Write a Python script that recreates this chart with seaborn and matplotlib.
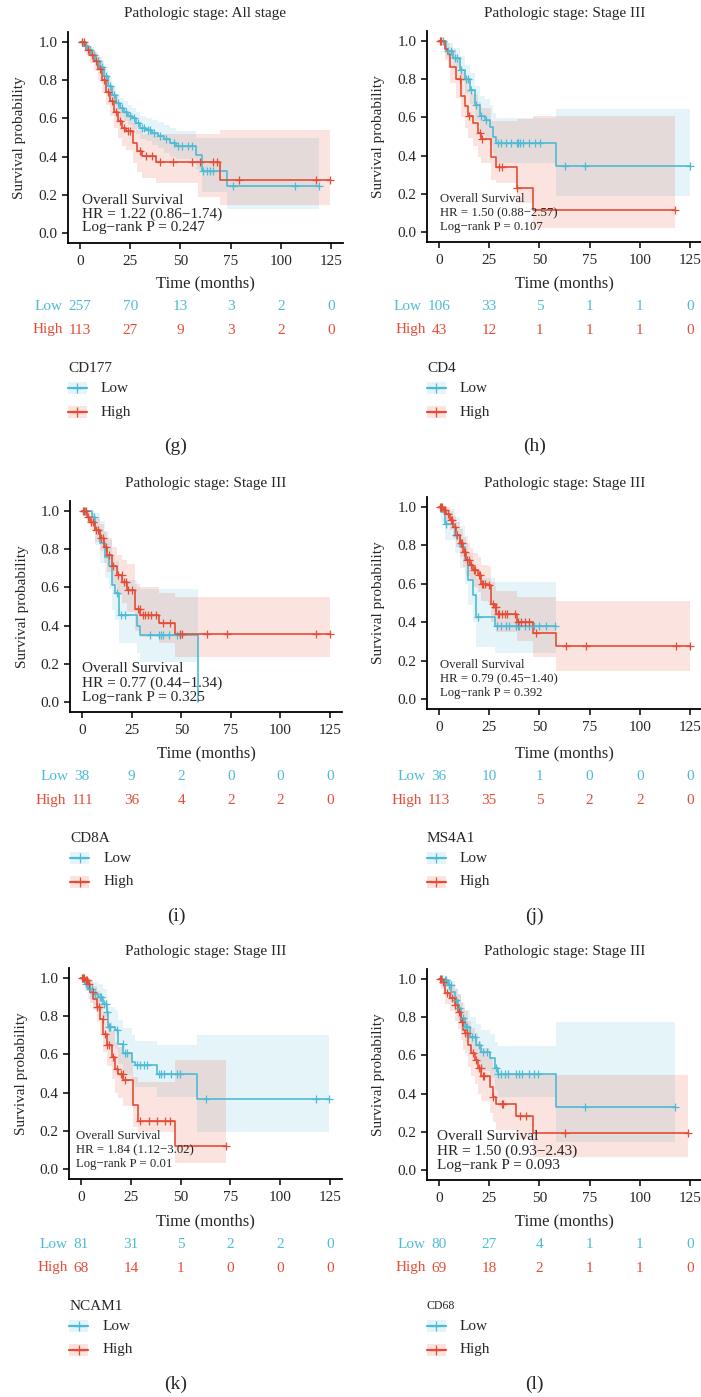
import numpy as np
import matplotlib
matplotlib.use('Agg')
import matplotlib.pyplot as plt
import matplotlib.transforms as mtransforms
from matplotlib.patches import Rectangle
from matplotlib.lines import Line2D
import seaborn as sns

# --- data (months / survival probability) ---
time_ticks = [0, 25, 50, 75, 100, 125]

# (g) CD177, all stage
g_low_t = [0, 2, 4, 6, 8, 10, 12, 14, 16, 18, 20, 22, 24, 26, 28, 30, 33, 36, 39, 42, 45, 48, 58, 60.6, 73]
g_low_s = [1.0, 0.98, 0.96, 0.93, 0.90, 0.87, 0.82, 0.77, 0.72, 0.68, 0.655, 0.635, 0.615, 0.60, 0.575, 0.55, 0.54, 0.525, 0.51, 0.49, 0.47, 0.455, 0.41, 0.325, 0.245]
g_low_lo = [1.0, 0.97, 0.94, 0.905, 0.87, 0.83, 0.78, 0.73, 0.68, 0.635, 0.605, 0.585, 0.565, 0.545, 0.52, 0.49, 0.48, 0.46, 0.445, 0.42, 0.40, 0.385, 0.33, 0.215, 0.125]
g_low_hi = [1.0, 0.99, 0.98, 0.955, 0.93, 0.905, 0.86, 0.815, 0.77, 0.73, 0.705, 0.69, 0.67, 0.655, 0.635, 0.61, 0.60, 0.59, 0.58, 0.565, 0.55, 0.535, 0.50, 0.50, 0.50]
g_low_cens = [1, 3, 5, 7, 9, 11, 13, 15, 17, 19, 21, 23, 25, 27, 29, 31, 32, 34, 35, 37, 40, 43, 47, 49, 51, 54, 56, 61.5, 63, 64.5, 66, 76, 107, 119]
g_low_end = 119
g_high_t = [0, 3, 5, 7, 9, 11, 13, 15, 17, 19, 21, 23, 26.5, 28.5, 31, 38, 59, 69.7]
g_high_s = [1.0, 0.96, 0.93, 0.90, 0.86, 0.80, 0.74, 0.69, 0.635, 0.585, 0.55, 0.535, 0.47, 0.43, 0.405, 0.37, 0.37, 0.275]
g_high_lo = [1.0, 0.93, 0.89, 0.85, 0.80, 0.735, 0.67, 0.61, 0.55, 0.495, 0.455, 0.435, 0.365, 0.32, 0.29, 0.26, 0.19, 0.145]
g_high_hi = [1.0, 0.99, 0.975, 0.95, 0.92, 0.87, 0.82, 0.77, 0.72, 0.675, 0.645, 0.63, 0.575, 0.54, 0.52, 0.52, 0.52, 0.54]
g_high_cens = [1, 2, 4, 6, 8, 10, 12, 14, 16, 18, 20, 22, 24, 25, 30, 33, 36, 40, 46.5, 55.6, 59.8, 66, 68, 79, 117.5, 124.5]
g_high_end = 124.5
g_risk_low = [257, 70, 13, 3, 2, 0]
g_risk_high = [113, 27, 9, 3, 2, 0]

# (h) CD4
h_low_t = [0, 3.7, 7, 10.3, 12.8, 15.3, 17.8, 20.3, 22.8, 25.3, 27, 28.6, 58.5]
h_low_s = [1.0, 0.95, 0.91, 0.85, 0.80, 0.745, 0.667, 0.605, 0.587, 0.55, 0.50, 0.465, 0.347]
h_low_lo = [1.0, 0.91, 0.86, 0.79, 0.73, 0.67, 0.58, 0.515, 0.49, 0.45, 0.40, 0.36, 0.186]
h_low_hi = [1.0, 0.99, 0.965, 0.92, 0.875, 0.83, 0.765, 0.71, 0.695, 0.665, 0.625, 0.595, 0.645]
h_low_cens = [1, 2, 4.5, 6, 8, 9, 11, 13.5, 14.5, 16, 18.5, 21, 23.5, 29.4, 31, 33.5, 36, 38.6, 39.4, 40.5, 42, 44.6, 47.8, 50.2, 62.7, 72.6, 125]
h_low_end = 125
h_high_t = [0, 2.8, 4.5, 5.3, 8.6, 11, 12.8, 14.5, 17, 19.4, 21, 26, 28.6, 38.6, 46.9]
h_high_s = [1.0, 0.96, 0.93, 0.865, 0.80, 0.71, 0.66, 0.605, 0.57, 0.52, 0.485, 0.395, 0.338, 0.228, 0.113]
h_high_lo = [1.0, 0.90, 0.86, 0.78, 0.70, 0.60, 0.545, 0.49, 0.45, 0.395, 0.36, 0.27, 0.256, 0.15, 0.02]
h_high_hi = [1.0, 1.0, 0.99, 0.96, 0.91, 0.84, 0.80, 0.75, 0.72, 0.68, 0.65, 0.58, 0.58, 0.59, 0.605]
h_high_cens = [0.5, 1, 10.6, 15, 20.3, 21.5, 30, 31.5, 39, 117.5]
h_high_end = 117.5
h_risk_low = [106, 33, 5, 1, 1, 0]
h_risk_high = [43, 12, 1, 1, 1, 0]

# (i) CD8A
i_low_t = [0, 5, 6.7, 9.2, 11.7, 13.4, 15.1, 16.8, 18.5, 27.7, 29.4, 58.4]
i_low_s = [1.0, 0.97, 0.90, 0.83, 0.76, 0.71, 0.61, 0.57, 0.456, 0.40, 0.352, 0.0]
i_low_lo = [1.0, 0.92, 0.82, 0.73, 0.65, 0.59, 0.48, 0.43, 0.31, 0.256, 0.21, 0.0]
i_low_hi = [1.0, 1.0, 0.99, 0.95, 0.89, 0.85, 0.77, 0.74, 0.64, 0.60, 0.59, 0.0]
i_low_cens = [1.7, 5.9, 17.6, 19.5, 21.8, 34.4, 39, 40, 41, 43.6, 48, 49.5]
i_low_end = 58.4
i_high_t = [0, 2.5, 4.2, 6.7, 9.2, 10.9, 12.6, 15.1, 17.6, 20.1, 22.6, 26.8, 29.4, 38.6, 47]
i_high_s = [1.0, 0.97, 0.945, 0.90, 0.86, 0.81, 0.77, 0.71, 0.665, 0.63, 0.587, 0.486, 0.456, 0.413, 0.357]
i_high_lo = [1.0, 0.94, 0.90, 0.84, 0.79, 0.73, 0.68, 0.615, 0.56, 0.52, 0.47, 0.37, 0.34, 0.31, 0.233]
i_high_hi = [1.0, 1.0, 0.99, 0.965, 0.93, 0.895, 0.86, 0.81, 0.77, 0.745, 0.72, 0.62, 0.60, 0.57, 0.55]
i_high_cens = [0.5, 1, 2, 3, 4.5, 5.5, 7, 8, 9.5, 10.5, 12, 13.5, 15.5, 18, 20, 21, 22, 23, 25, 28, 29, 30.5, 32, 33.5, 35, 37.5, 41, 44.5, 49.5, 50.5, 63, 73, 118, 125]
i_high_end = 125
i_risk_low = [38, 9, 2, 0, 0, 0]
i_risk_high = [111, 36, 4, 2, 2, 0]

# (j) MS4A1
j_low_t = [0, 1.2, 2.8, 7.8, 10.3, 12.8, 14.5, 17, 18.6, 27.8]
j_low_s = [1.0, 0.974, 0.913, 0.853, 0.79, 0.723, 0.619, 0.54, 0.428, 0.381]
j_low_lo = [1.0, 0.92, 0.83, 0.76, 0.68, 0.60, 0.49, 0.40, 0.272, 0.237]
j_low_hi = [1.0, 1.0, 0.99, 0.95, 0.90, 0.85, 0.76, 0.70, 0.63, 0.61]
j_low_cens = [3.7, 8.5, 19.4, 29, 31, 33.5, 35, 38.5, 39.4, 40, 42.6, 45, 47.5, 50, 53.5, 58]
j_low_end = 58.5
j_high_t = [0, 2, 3.7, 5.3, 7, 8.6, 10.3, 12, 13.6, 15.3, 17, 19.4, 21.1, 24.4, 26.1, 27.8, 28.6, 38.6, 46.9, 58.5]
j_high_s = [1.0, 0.986, 0.965, 0.93, 0.896, 0.853, 0.81, 0.766, 0.723, 0.697, 0.67, 0.645, 0.60, 0.593, 0.497, 0.48, 0.445, 0.402, 0.345, 0.276]
j_high_lo = [1.0, 0.96, 0.93, 0.88, 0.84, 0.79, 0.74, 0.69, 0.64, 0.615, 0.585, 0.555, 0.51, 0.50, 0.40, 0.385, 0.35, 0.30, 0.22, 0.147]
j_high_hi = [1.0, 1.0, 1.0, 0.98, 0.955, 0.92, 0.885, 0.845, 0.81, 0.785, 0.76, 0.74, 0.70, 0.695, 0.61, 0.59, 0.56, 0.53, 0.53, 0.51]
j_high_cens = [0.5, 1, 1.5, 2.5, 3, 4.5, 6, 6.5, 8, 9, 11, 11.5, 12.5, 13, 14, 15, 16, 17.5, 18, 20, 20.5, 21.5, 22, 23, 25, 27, 28, 28.5, 29.5, 30, 31.5, 33, 34, 38, 39.5, 41, 43, 45, 48.5, 63, 73, 118, 125]
j_high_end = 125
j_risk_low = [36, 10, 1, 0, 0, 0]
j_risk_high = [113, 35, 5, 2, 2, 0]

# (k) NCAM1
k_low_t = [0, 2, 3.7, 6.2, 8.7, 11.2, 12.9, 13.7, 17, 18.7, 21.3, 25.4, 27.1, 38, 58.4]
k_low_s = [1.0, 0.97, 0.944, 0.918, 0.90, 0.866, 0.822, 0.744, 0.727, 0.657, 0.605, 0.561, 0.544, 0.497, 0.369]
k_low_lo = [1.0, 0.93, 0.89, 0.86, 0.835, 0.79, 0.74, 0.65, 0.63, 0.55, 0.49, 0.445, 0.43, 0.378, 0.195]
k_low_hi = [1.0, 1.0, 0.995, 0.98, 0.97, 0.945, 0.91, 0.85, 0.835, 0.78, 0.74, 0.70, 0.67, 0.648, 0.70]
k_low_cens = [1, 2.5, 4.5, 5.5, 7, 9.5, 10, 11.5, 12.5, 13.2, 14, 14.5, 18, 21, 22, 23, 28, 29.5, 31.5, 33, 39, 40, 41.5, 45, 48, 49.5, 62.8, 118, 124.5]
k_low_end = 124.5
k_high_t = [0, 2, 3.7, 4.5, 6.2, 7.9, 9.5, 11.2, 12.9, 15.4, 17, 18.7, 21.3, 26.3, 28.8, 47.2]
k_high_s = [1.0, 0.988, 0.97, 0.927, 0.892, 0.849, 0.787, 0.709, 0.648, 0.587, 0.526, 0.50, 0.465, 0.334, 0.253, 0.122]
k_high_lo = [1.0, 0.96, 0.93, 0.87, 0.83, 0.77, 0.70, 0.61, 0.54, 0.47, 0.40, 0.37, 0.33, 0.22, 0.195, 0.03]
k_high_hi = [1.0, 1.0, 1.0, 0.99, 0.96, 0.93, 0.88, 0.82, 0.77, 0.72, 0.665, 0.64, 0.61, 0.48, 0.456, 0.57]
k_high_cens = [0.5, 1, 1.5, 2.5, 3, 4, 6, 8, 9, 11, 12, 13, 14, 16, 18, 20, 21, 22, 29.6, 34, 38, 42, 44.7, 73]
k_high_end = 73
k_risk_low = [81, 31, 5, 2, 2, 0]
k_risk_high = [68, 14, 1, 0, 0, 0]

# (l) CD68
l_low_t = [0, 2, 4.5, 6.1, 7.8, 9.5, 11.1, 12.8, 15.3, 18.6, 21.1, 25.3, 27.8, 29.4, 58.5]
l_low_s = [1.0, 0.995, 0.969, 0.934, 0.89, 0.846, 0.794, 0.75, 0.698, 0.654, 0.62, 0.585, 0.532, 0.503, 0.332]
l_low_lo = [1.0, 0.98, 0.93, 0.88, 0.83, 0.78, 0.72, 0.67, 0.61, 0.56, 0.52, 0.48, 0.42, 0.384, 0.145]
l_low_hi = [1.0, 1.0, 1.0, 0.99, 0.955, 0.92, 0.875, 0.84, 0.80, 0.765, 0.735, 0.71, 0.67, 0.65, 0.775]
l_low_cens = [1.5, 3, 3.5, 5, 6, 8.5, 10, 12, 13.5, 14, 16.5, 18, 20, 22, 24, 28.5, 29.5, 31, 33, 34.5, 38.5, 40, 41.5, 45, 47.5, 49.5, 72.6, 117.5]
l_low_end = 117.5
l_high_t = [0, 1.2, 2.8, 5.3, 7.8, 9.5, 11.1, 12, 12.8, 14.5, 16.1, 17.8, 19.4, 21.1, 25.3, 26.9, 28.6, 38.1, 46.9]
l_high_s = [1.0, 0.986, 0.925, 0.90, 0.864, 0.829, 0.777, 0.733, 0.716, 0.654, 0.611, 0.576, 0.532, 0.494, 0.436, 0.384, 0.346, 0.284, 0.192]
l_high_lo = [1.0, 0.95, 0.87, 0.83, 0.78, 0.74, 0.68, 0.63, 0.61, 0.54, 0.49, 0.45, 0.40, 0.36, 0.30, 0.25, 0.21, 0.16, 0.07]
l_high_hi = [1.0, 1.0, 0.99, 0.975, 0.95, 0.92, 0.88, 0.85, 0.835, 0.78, 0.745, 0.715, 0.675, 0.64, 0.59, 0.54, 0.50, 0.497, 0.497]
l_high_cens = [0.5, 1, 2, 4, 6.5, 8, 10, 11.5, 13, 14, 17, 18.5, 20, 21, 22, 22.5, 27, 31.5, 32, 40.2, 43.5, 62.7, 124]
l_high_end = 124
l_risk_low = [80, 27, 4, 1, 1, 0]
l_risk_high = [69, 18, 2, 1, 1, 0]

titles = ['Pathologic stage: All stage'] + ['Pathologic stage: Stage III'] * 5
genes = ['CD177', 'CD4', 'CD8A', 'MS4A1', 'NCAM1', 'CD68']
letters = ['(g)', '(h)', '(i)', '(j)', '(k)', '(l)']
hr_text = ['HR = 1.22 (0.86\u22121.74)', 'HR = 1.50 (0.88\u22122.57)', 'HR = 0.77 (0.44\u22121.34)',
           'HR = 0.79 (0.45\u22121.40)', 'HR = 1.84 (1.12\u22123.02)', 'HR = 1.50 (0.93\u22122.43)']
p_text = ['Log\u2212rank P = 0.247', 'Log\u2212rank P = 0.107', 'Log\u2212rank P = 0.325',
          'Log\u2212rank P = 0.392', 'Log\u2212rank P = 0.01', 'Log\u2212rank P = 0.093']

# --- style ---
sns.set_style('ticks')
plt.rcParams['font.family'] = ['Liberation Serif', 'DejaVu Serif']

BLUE = '#4DBBD5'
RED = '#E64B35'
W, H = 701, 1397
FS = 11


def fx(x):
    return x / W


def fy(y):
    return 1 - y / H


def draw_curve(ax, t, s, lo, hi, cens, end, color):
    t, s, lo, hi = list(t), list(s), list(lo), list(hi)
    if end > t[-1]:
        t, s, lo, hi = t + [end], s + [s[-1]], lo + [lo[-1]], hi + [hi[-1]]
    ax.fill_between(t, lo, hi, step='post', color=color, alpha=0.15, lw=0, zorder=1)
    sns.lineplot(x=t, y=s, drawstyle='steps-post', color=color, lw=1.2,
                 estimator=None, sort=False, ax=ax, zorder=2)
    idx = np.searchsorted(t, cens, side='right') - 1
    sns.scatterplot(x=cens, y=np.array(s)[idx], marker='+', s=32, color=color,
                    linewidth=0.9, ax=ax, zorder=3)


fig = plt.figure(figsize=(W / 100, H / 100), dpi=100)

# pixel geometry per panel: x of t=0, px per month, y of S=1, y of S=0, row offset
geom = [(80, 2.008, 42, 233, 0), (439, 2.008, 41, 232, 0),
        (82, 1.984, 511, 702, 470), (439, 2.008, 507, 699, 470),
        (81, 1.992, 978, 1169, 938), (439, 2.008, 979, 1170, 938)]
curves = [
    ((g_low_t, g_low_s, g_low_lo, g_low_hi, g_low_cens, g_low_end),
     (g_high_t, g_high_s, g_high_lo, g_high_hi, g_high_cens, g_high_end), g_risk_low, g_risk_high),
    ((h_low_t, h_low_s, h_low_lo, h_low_hi, h_low_cens, h_low_end),
     (h_high_t, h_high_s, h_high_lo, h_high_hi, h_high_cens, h_high_end), h_risk_low, h_risk_high),
    ((i_low_t, i_low_s, i_low_lo, i_low_hi, i_low_cens, i_low_end),
     (i_high_t, i_high_s, i_high_lo, i_high_hi, i_high_cens, i_high_end), i_risk_low, i_risk_high),
    ((j_low_t, j_low_s, j_low_lo, j_low_hi, j_low_cens, j_low_end),
     (j_high_t, j_high_s, j_high_lo, j_high_hi, j_high_cens, j_high_end), j_risk_low, j_risk_high),
    ((k_low_t, k_low_s, k_low_lo, k_low_hi, k_low_cens, k_low_end),
     (k_high_t, k_high_s, k_high_lo, k_high_hi, k_high_cens, k_high_end), k_risk_low, k_risk_high),
    ((l_low_t, l_low_s, l_low_lo, l_low_hi, l_low_cens, l_low_end),
     (l_high_t, l_high_s, l_high_lo, l_high_hi, l_high_cens, l_high_end), l_risk_low, l_risk_high),
]
note_size = [11, 9.2, 11, 9.2, 9.2, 11]
note_dx = [2, 1, 0, 1, -5, -2]
gene_size = [11, 11, 11, 11, 11, 8.5]

for p in range(6):
    x0, xs, y1, y0, off = geom[p]
    ys = y0 - y1
    left, right = x0 - 6 * xs, x0 + 131 * xs
    top, bottom = y1 - 0.05 * ys, y0 + 0.05 * ys
    ax = fig.add_axes([fx(left), fy(bottom), (right - left) / W, (bottom - top) / H])

    low, high, rlow, rhigh = curves[p]
    draw_curve(ax, *low, BLUE)
    draw_curve(ax, *high, RED)

    ax.set_xlim(-6, 131)
    ax.set_ylim(-0.05, 1.05)
    ax.set_xticks(time_ticks)
    ax.set_yticks([0, 0.2, 0.4, 0.6, 0.8, 1.0])
    ax.set_yticklabels(['0.0', '0.2', '0.4', '0.6', '0.8', '1.0'])
    ax.set_xlabel('')
    ax.set_ylabel('')
    ax.tick_params(axis='both', length=4.5, width=1.1, labelsize=FS, color='black')
    ax.tick_params(axis='x', pad=4.5)
    ax.tick_params(axis='y', pad=3)
    sns.despine(ax=ax)
    for sp in ['left', 'bottom']:
        ax.spines[sp].set_linewidth(1.3)
        ax.spines[sp].set_color('black')

    cx = (left + right) / 2
    fig.text(fx(cx), fy(off + 13), titles[p], ha='center', va='center', fontsize=11)
    fig.text(fx(left - 48), fy((y1 + y0) / 2), 'Survival probability', rotation=90,
             ha='center', va='center', fontsize=FS)
    fig.text(fx(cx), fy(off + 283), 'Time (months)', ha='center', va='center', fontsize=12)

    # annotation block
    nx = x0 + note_dx[p]
    fig.text(fx(nx), fy(y1 + 158), 'Overall Survival', ha='left', va='center', fontsize=note_size[p])
    fig.text(fx(nx), fy(y1 + 172), hr_text[p], ha='left', va='center', fontsize=note_size[p])
    fig.text(fx(nx), fy(y1 + 186), p_text[p], ha='left', va='center', fontsize=note_size[p])

    # risk table
    trans = mtransforms.blended_transform_factory(ax.transData, fig.transFigure)
    for vals, name, col, yy in [(rlow, 'Low', BLUE, off + 306), (rhigh, 'High', RED, off + 330)]:
        first = None
        for tt, v in zip(time_ticks, vals):
            txt = ax.text(tt, fy(yy), str(v), transform=trans, ha='center', va='center',
                          color=col, fontsize=FS, clip_on=False)
            if first is None:
                first = txt
        ax.annotate(name, xy=(0, 0.5), xycoords=first, xytext=(-4, 0),
                    textcoords='offset points', ha='right', va='center', color=col, fontsize=FS)

    # legend
    fig.text(fx(left), fy(off + 368), genes[p], ha='left', va='center', fontsize=gene_size[p])
    for name, col, yy in [('Low', BLUE, off + 388), ('High', RED, off + 412)]:
        fig.add_artist(Rectangle((fx(left), fy(yy + 6)), 19 / W, 12 / H, transform=fig.transFigure,
                                 facecolor=col, alpha=0.15, lw=0))
        fig.add_artist(Line2D([fx(left), fx(left + 19)], [fy(yy), fy(yy)], transform=fig.transFigure,
                              color=col, lw=1.6))
        fig.add_artist(Line2D([fx(left + 9.5)], [fy(yy)], transform=fig.transFigure, color=col,
                              marker='+', markersize=7, markeredgewidth=0.9, lw=0))
        fig.text(fx(left + 33), fy(yy), name, ha='left', va='center', fontsize=FS)

    fig.text(fx(cx - 30), fy(off + 446), letters[p], ha='center', va='center', fontsize=14)

fig.savefig('out.png', dpi=100)
